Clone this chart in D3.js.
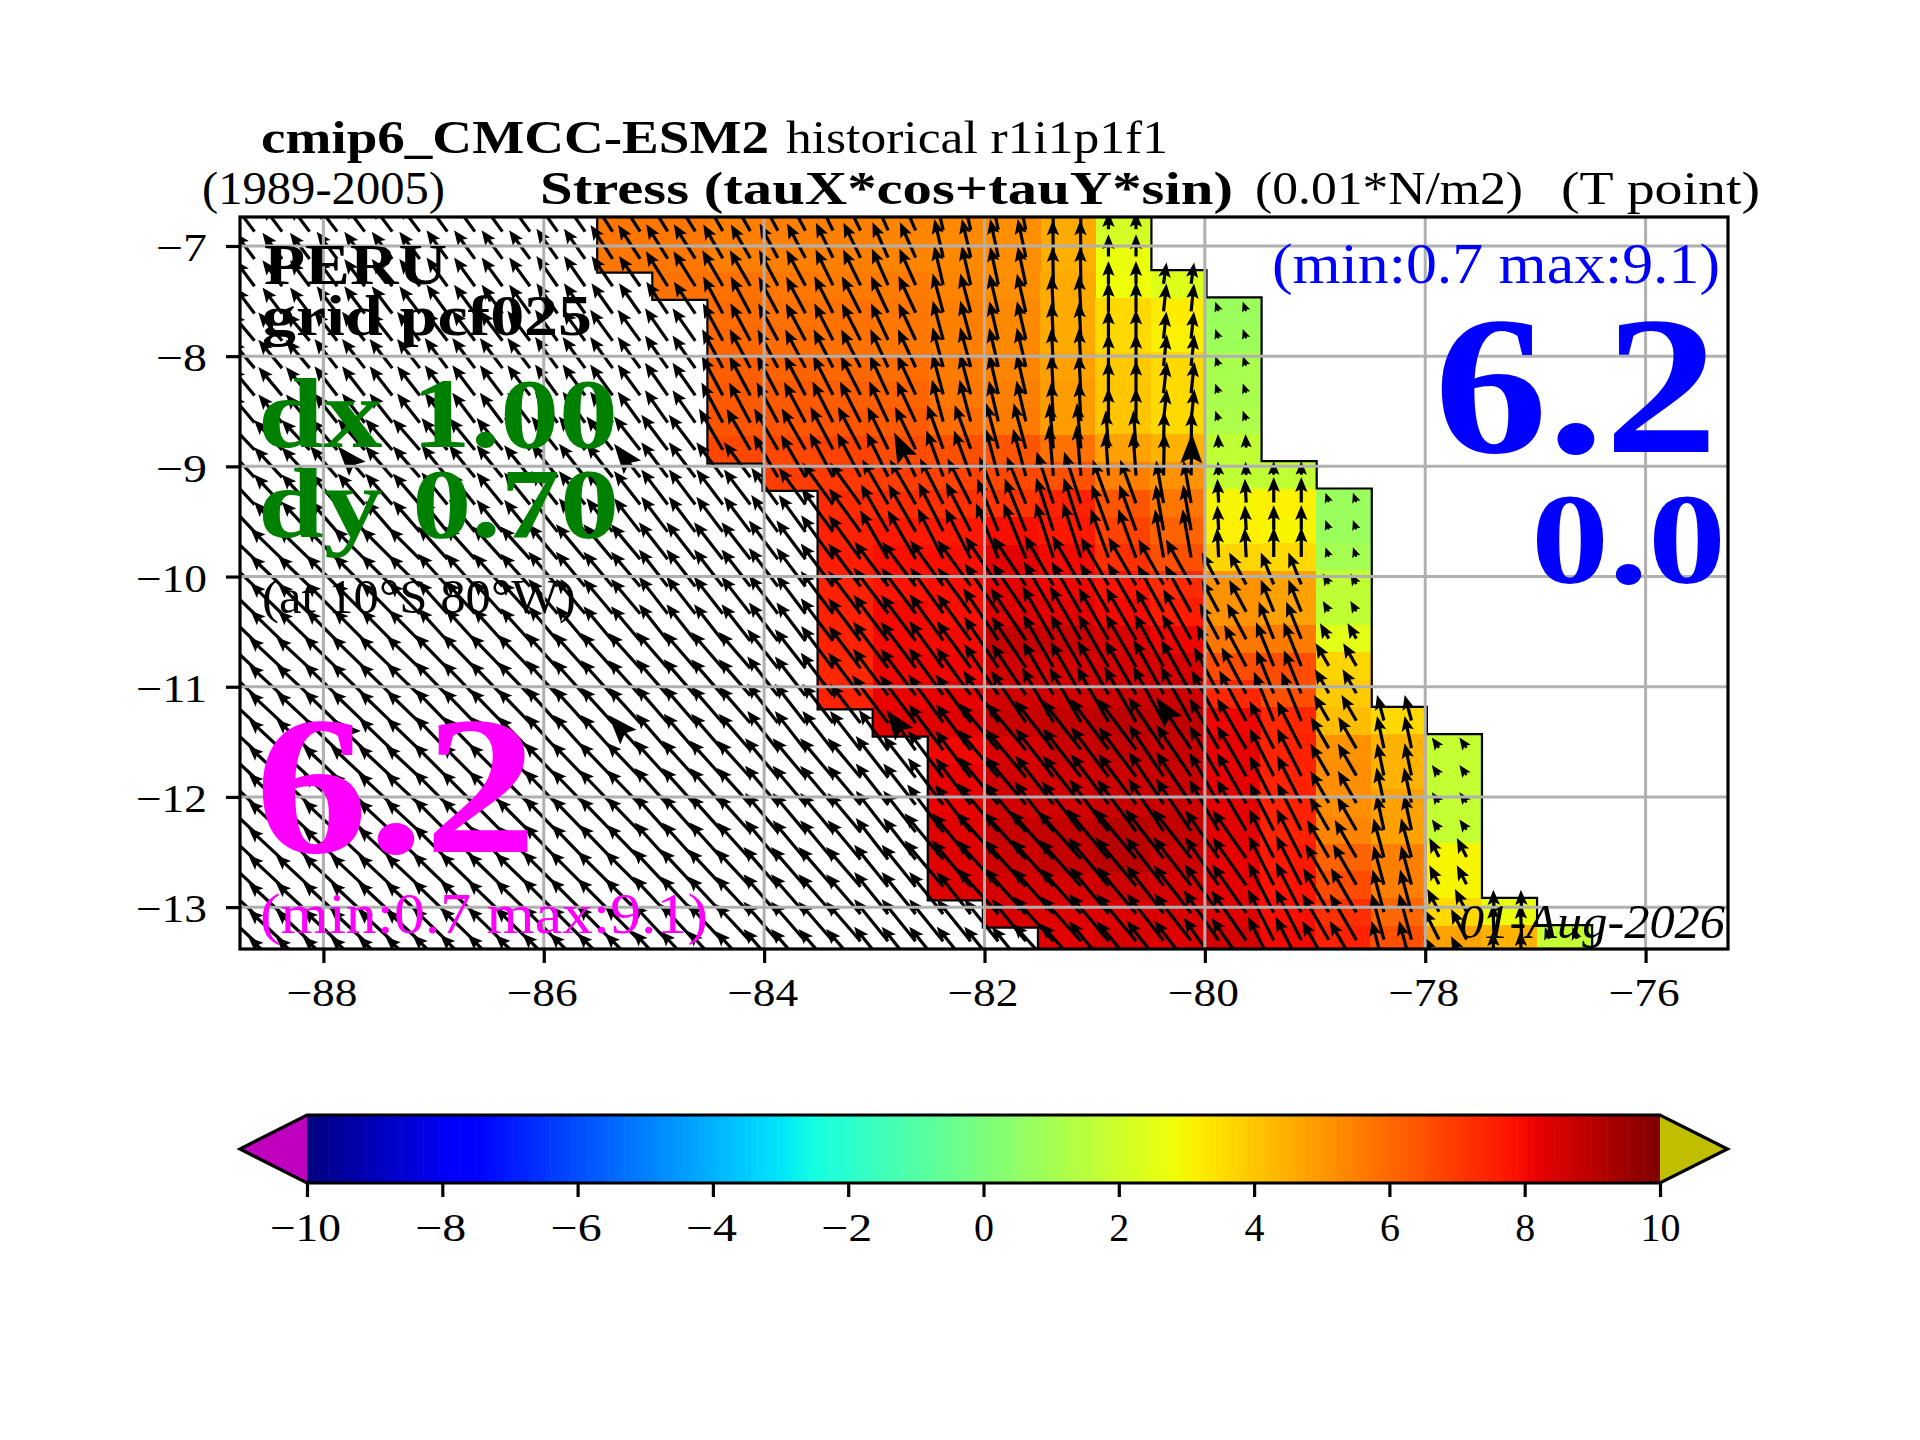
<!DOCTYPE html>
<html>
<head>
<meta charset="utf-8">
<script src="https://cdn.jsdelivr.net/npm/d3@7"></script>
<style>
body { margin: 0; background: #fff; }
text { font-family: "Liberation Serif", serif; }
.axis text { font-size: 40px; font-family: "Liberation Serif", serif; fill: #000; }
.axis line { stroke: #000; stroke-width: 3.2px; }
.axis path { display: none; }
</style>
</head>
<body>
<svg id="chart" width="1920" height="1440"></svg>
<script>
var lonTicks = [-88, -86, -84, -82, -80, -78, -76],
    latTicks = [-7, -8, -9, -10, -11, -12, -13],
    cbarTicks = [-10, -8, -6, -4, -2, 0, 2, 4, 6, 8, 10];

// first half degree column of each row, counted from 85.5W
var bandStart = [0, 0, 1, 2, 2, 2, 2, 2, 2, 3, 4, 4, 4, 4, 4, 4, 4, 4, 5, 6, 6, 6, 6, 6, 6, 7, 8, 8];

// stress along the coast, 10 columns per row from bandStart
var tauValues = [
    [5.7, 5.7, 5.5, 5.5, 5.5, 5.4, 5.3, 5.2, 4.6, 2.1],
    [5.7, 5.7, 5.5, 5.5, 5.5, 5.4, 5.3, 5.2, 4.5, 2.7],
    [5.8, 5.8, 5.7, 5.6, 5.6, 5.4, 5.2, 4.6, 2.8, 2.4],
    [5.9, 5.8, 5.8, 5.7, 5.5, 5.3, 4.6, 3.6, 3.2, 0.75],
    [6.0, 5.9, 5.8, 5.7, 5.5, 5.3, 4.6, 3.6, 3.1, 0.8],
    [6.2, 6.1, 6.0, 5.9, 5.6, 5.4, 4.8, 3.95, 3.6, 1.1],
    [6.3, 6.3, 6.2, 6.1, 5.7, 5.5, 4.9, 4.0, 3.6, 1.1],
    [6.4, 6.4, 6.4, 6.3, 5.9, 5.6, 4.9, 4.0, 3.6, 1.2],
    [6.7, 6.7, 6.8, 6.6, 6.5, 6.4, 5.8, 4.8, 4.4, 1.7],
    [6.9, 7.0, 6.9, 6.8, 6.7, 6.5, 5.5, 5.1, 1.7, 1.7],
    [7.3, 7.3, 7.2, 7.1, 7.5, 6.4, 5.7, 3.0, 3.1, 0.75],
    [7.5, 7.7, 7.7, 7.9, 7.7, 6.8, 6.1, 3.1, 3.0, 0.75],
    [7.6, 7.9, 7.9, 8.3, 8.0, 7.2, 6.5, 3.7, 3.6, 1.0],
    [7.5, 7.8, 7.9, 8.3, 8.1, 7.8, 7.3, 5.1, 4.8, 1.7],
    [7.5, 8.0, 7.9, 8.4, 8.3, 8.0, 7.6, 5.1, 4.8, 1.7],
    [7.5, 8.0, 8.0, 8.85, 8.75, 8.45, 8.1, 5.7, 5.6, 2.5],
    [7.4, 8.1, 8.1, 8.6, 8.55, 8.55, 8.45, 6.6, 6.6, 3.7],
    [7.5, 8.15, 8.2, 8.6, 8.6, 8.7, 8.7, 7.4, 6.5, 3.9],
    [8.35, 8.35, 8.75, 8.85, 8.95, 8.9, 8.1, 7.4, 4.2, 3.6],
    [8.05, 8.47, 8.7, 8.85, 8.8, 8.2, 7.5, 5.1, 4.4, 1.75],
    [8.2, 8.6, 8.6, 8.7, 8.75, 8.2, 7.5, 5.2, 4.4, 1.75],
    [8.2, 8.6, 8.6, 8.75, 8.75, 8.25, 7.5, 5.2, 4.8, 1.75],
    [8.35, 8.8, 8.85, 9.05, 8.85, 8.3, 7.5, 5.4, 4.8, 1.75],
    [8.35, 8.7, 8.85, 9.0, 8.7, 8.2, 7.7, 6.1, 5.5, 3.0],
    [8.35, 8.55, 8.55, 8.7, 8.55, 8.25, 7.8, 6.6, 5.5, 3.0],
    [8.45, 8.35, 8.4, 8.45, 8.35, 7.9, 7.2, 6.0, 3.6, 2.7],
    [8.3, 8.5, 8.35, 8.55, 8.0, 7.5, 6.5, 4.8, 4.4, 1.75],
    [8.3, 8.5, 8.35, 8.55, 8.0, 7.5, 6.5, 4.8, 4.4, 1.75]
];

// arrow direction in degrees west of north: groups of rows by half degree column
var angleRowGroup = [0, 0, 0, 1, 1, 1, 1, 1, 2, 2, 3, 3, 3, 4, 4, 4, 4, 4, 4, 5, 5, 5, 5, 6, 6, 6, 6, 6];
var bandAngle = [
    [33, 32, 30, 28, 26, 24, 13, 12, 1, 0, -8],
    [33, 32, 28, 28, 27, 25, 15, 13, 3, 0, -6, 20],
    [33, 32, 30, 30, 28, 26, 20, 15, 5, 4, -1, 3, 0],
    [33, 32, 30, 30, 36, 30, 27, 22, 18, 20, 10, 3, 0, 20],
    [33, 32, 30, 30, 37, 37, 36, 34, 30, 30, 29, 28, 22, 30, 15],
    [33, 32, 30, 30, 37, 37, 37, 40, 38, 37, 34, 30, 27, 30, 12, 35],
    [33, 32, 30, 30, 37, 37, 40, 42, 42, 40, 38, 35, 27, 30, 15, 27, 2, 20]
];

// offshore arrows, per 1 degree of longitude from 89W and 4 rows of latitude
var offshoreAngle = [
    [37, 37, 36, 35, 34, 34, 34],
    [40, 38, 37, 36, 35, 34, 34],
    [43, 41, 39, 38, 37, 36, 36],
    [46, 45, 42, 40, 38, 37, 35],
    [47, 46, 44, 42, 41, 38, 36],
    [47, 47, 45, 44, 42, 40, 38],
    [47, 47, 46, 45, 43, 41, 39]
];
var offshoreSpeed = [
    [4.6, 4.8, 5.0, 5.2, 5.4, 5.4, 5.4],
    [5.2, 5.2, 5.3, 5.4, 5.6, 5.8, 5.8],
    [5.8, 5.8, 5.8, 6.0, 6.2, 6.4, 6.4],
    [6.2, 6.2, 6.2, 6.4, 6.6, 6.8, 6.8],
    [6.4, 6.5, 6.6, 6.7, 6.8, 7.0, 7.0],
    [6.5, 6.6, 6.7, 6.8, 7.0, 7.2, 7.4],
    [6.5, 6.6, 6.8, 7.0, 7.2, 7.4, 7.6]
];

// the heavier arrows of the coarser field
var boldLon = [-87.625, -85.125, -82.625, -80.125],
    boldRow = [9, 19];

var underColor = "#bf00bf", overColor = "#bfbf00";
var coastAngle = 30, pxPerTau = 7.1;

// jet
var jetR = d3.scaleLinear().domain([0, 0.35, 0.66, 0.89, 1]).range([0, 0, 1, 1, 0.5]),
    jetG = d3.scaleLinear().domain([0, 0.125, 0.375, 0.64, 0.91, 1]).range([0, 0, 1, 1, 0, 0]),
    jetB = d3.scaleLinear().domain([0, 0.11, 0.34, 0.65, 1]).range([0.5, 1, 1, 0, 0]);

function jet(v) {
    var t = (v + 10) / 20;
    return d3.rgb(jetR(t) * 255, jetG(t) * 255, jetB(t) * 255).formatHex();
}

var svg = d3.select("#chart"),
    left = 240, right = 1728, top_ = 217, bottom = 949;

var x = d3.scaleLinear().domain([-88.757, -75.252]).range([left, right]),
    y = d3.scaleLinear().domain([-6.737, -13.38]).range([top_, bottom]);

// the model grid leans a little: rows rise and columns widen toward the coast
var firstRowLat = -6.746, rowLat = 0.2477, colLon = 0.5, firstLon = -85.485, rowTilt = 0.00245, colTilt = 0.003;

function rowY(r, c) { return y(firstRowLat - r * rowLat + c * rowTilt); }
function colX(j, c) { return x(firstLon + j * colLon - (10 - c) * colTilt); }

svg.append("rect").attr("width", 1920).attr("height", 1440).attr("fill", "#fff");

svg.append("clipPath").attr("id", "axes-clip")
    .append("rect")
    .attr("x", left).attr("y", top_)
    .attr("width", right - left).attr("height", bottom - top_);

var plot = svg.append("g").attr("clip-path", "url(#axes-clip)");

// coloured cells
var cells = [];
tauValues.forEach(function(row, r) {
    row.forEach(function(v, c) {
        cells.push({r: r, c: c, j: bandStart[r] + c, v: v});
    });
});

plot.append("g").selectAll("rect")
    .data(cells)
    .enter().append("rect")
    .attr("x", function(d) { return colX(d.j, d.c); })
    .attr("y", function(d) { return rowY(d.r, d.c); })
    .attr("width", function(d) { return colX(d.j + 1, d.c + 1) - colX(d.j, d.c) + 0.5; })
    .attr("height", function(d) { return rowY(d.r + 1, d.c) - rowY(d.r, d.c) + 0.5; })
    .attr("fill", function(d) { return jet(d.v); })
    .attr("shape-rendering", "crispEdges");

// mask contour on both sides of the band
var contourLine = d3.line();
[0, 10].forEach(function(side) {
    var pts = [];
    bandStart.forEach(function(s, r) {
        var c = side === 0 ? 0 : 9;
        pts.push([colX(s + side, side), rowY(r, c)]);
        pts.push([colX(s + side, side), rowY(r + 1, c)]);
    });
    plot.append("path")
        .attr("d", contourLine(pts))
        .attr("fill", "none")
        .attr("stroke", "#000")
        .attr("stroke-width", 2.2);
});

// quiver
function arrowPath(len, bold) {
    var w = 1.6, hl = bold ? 30 : 15, hw = bold ? 11 : 6.2;
    if (len < hl) {
        var s = len / hl;
        hl = len;
        hw = hw * Math.max(s, 0.7);
        w = Math.max(w * s, 0.6);
    }
    var notch = hl * 0.85;
    return "M0," + (-len) +
        "L" + hw + "," + (hl - len) +
        "L" + w + "," + (notch - len) +
        "L" + w + ",0L" + (-w) + ",0" +
        "L" + (-w) + "," + (notch - len) +
        "L" + (-hw) + "," + (hl - len) + "Z";
}

var arrows = [];
d3.range(0, tauValues.length).forEach(function(r) {
    d3.range(0, 56).forEach(function(k) {
        var lon = -88.625 + k * 0.25,
            j = Math.floor((lon + 85.5) / colLon),
            c = j - bandStart[r],
            angle, speed;
        if (c >= 10) return;
        if (c >= 0) {
            angle = bandAngle[angleRowGroup[r]][j];
            if (angle === undefined) angle = coastAngle;
            speed = tauValues[r][c] / Math.max(Math.cos((angle - coastAngle) * Math.PI / 180), 0.5);
        } else {
            var a = Math.min(Math.floor(r / 4), 6),
                b = Math.min(Math.floor(lon + 89), 6);
            angle = offshoreAngle[a][b];
            speed = offshoreSpeed[a][b];
        }
        arrows.push({
            lon: lon,
            r: r,
            c: Math.max(c, 0),
            angle: angle,
            len: Math.max(speed * pxPerTau, 10),
            bold: boldRow.indexOf(r) >= 0 && boldLon.indexOf(lon) >= 0
        });
    });
});

plot.append("g").selectAll("path")
    .data(arrows)
    .enter().append("path")
    .attr("d", function(d) { return arrowPath(d.len, d.bold); })
    .attr("transform", function(d) {
        return "translate(" + x(d.lon) + "," + (rowY(d.r, d.c) + rowY(d.r + 1, d.c)) / 2 + ") rotate(" + (-d.angle) + ")";
    })
    .attr("fill", "#000");

// grid
plot.append("g").selectAll("line")
    .data(lonTicks)
    .enter().append("line")
    .attr("x1", function(d) { return x(d); }).attr("x2", function(d) { return x(d); })
    .attr("y1", top_).attr("y2", bottom)
    .attr("stroke", "#b0b0b0").attr("stroke-width", 3);

plot.append("g").selectAll("line")
    .data(latTicks)
    .enter().append("line")
    .attr("y1", function(d) { return y(d); }).attr("y2", function(d) { return y(d); })
    .attr("x1", left).attr("x2", right)
    .attr("stroke", "#b0b0b0").attr("stroke-width", 3);

svg.append("rect")
    .attr("x", left).attr("y", top_)
    .attr("width", right - left).attr("height", bottom - top_)
    .attr("fill", "none").attr("stroke", "#000").attr("stroke-width", 3.2);

// computer modern digits run wider than the installed serif
function stretchTicks(g) {
    g.selectAll("text")
        .attr("lengthAdjust", "spacingAndGlyphs")
        .attr("textLength", function(d) { return (d < 0 ? 31 : 0) + 20 * String(Math.abs(d)).length; });
}

function shiftNegative(g) {
    g.selectAll("text")
        .attr("dx", function(d) { return d < 0 ? -2 : 0; });
}

svg.append("g")
    .attr("class", "axis")
    .attr("transform", "translate(0," + bottom + ")")
    .call(d3.axisBottom(x).tickValues(lonTicks).tickFormat(d3.format("d")).tickSize(14).tickPadding(15))
    .call(stretchTicks)
    .call(shiftNegative);

svg.append("g")
    .attr("class", "axis")
    .attr("transform", "translate(" + left + ",0)")
    .call(d3.axisLeft(y).tickValues(latTicks).tickFormat(d3.format("d")).tickSize(14).tickPadding(19))
    .call(stretchTicks)
    .selectAll("text").attr("dy", "0.37em");

// colorbar
var cbarLeft = 307, cbarRight = 1660, cbarTop = 1115, cbarBottom = 1183, cbarMid = 1149;
var cbarX = d3.scaleLinear().domain([-10, 10]).range([cbarLeft, cbarRight]);

var cbar = svg.append("g");

cbar.selectAll("rect")
    .data(d3.range(0, 256))
    .enter().append("rect")
    .attr("x", function(d) { return cbarX(-10 + d * 20 / 256); })
    .attr("y", cbarTop)
    .attr("width", (cbarRight - cbarLeft) / 256 + 0.6)
    .attr("height", cbarBottom - cbarTop)
    .attr("fill", function(d) { return jet(-10 + (d + 0.5) * 20 / 256); });

var cbarLine = d3.line();

cbar.append("path")
    .attr("d", cbarLine([[cbarLeft, cbarTop], [240, cbarMid], [cbarLeft, cbarBottom]]) + "Z")
    .attr("fill", underColor);

cbar.append("path")
    .attr("d", cbarLine([[cbarRight, cbarTop], [1727.5, cbarMid], [cbarRight, cbarBottom]]) + "Z")
    .attr("fill", overColor);

cbar.append("path")
    .attr("d", cbarLine([[cbarLeft, cbarTop], [cbarRight, cbarTop], [1727.5, cbarMid], [cbarRight, cbarBottom],
        [cbarLeft, cbarBottom], [240, cbarMid]]) + "Z")
    .attr("fill", "none").attr("stroke", "#000").attr("stroke-width", 3.2);

svg.append("g")
    .attr("class", "axis")
    .attr("transform", "translate(0," + cbarBottom + ")")
    .call(d3.axisBottom(cbarX).tickValues(cbarTicks).tickFormat(d3.format("d")).tickSize(14).tickPadding(15.3))
    .call(stretchTicks)
    .call(shiftNegative);

// text
function label(str, x0, x1, base, size, color, weight, style) {
    svg.append("text")
        .attr("x", x0)
        .attr("y", base)
        .attr("textLength", x1 - x0)
        .attr("lengthAdjust", "spacingAndGlyphs")
        .attr("font-size", size)
        .attr("font-weight", weight || "normal")
        .attr("font-style", style || "normal")
        .attr("fill", color || "#000")
        .text(str);
}

label("cmip6_CMCC-ESM2", 261, 769, 152.7, 47, "#000", "bold");
label("historical r1i1p1f1", 786, 1168, 152.7, 47);
label("(1989-2005)", 202, 445, 204, 47);
label("Stress (tauX*cos+tauY*sin)", 540, 1233, 204, 47, "#000", "bold");
label("(0.01*N/m2)", 1255, 1523, 204, 47);
label("(T point)", 1561, 1760, 204, 47);

label("PERU", 264, 447, 284, 58, "#000", "bold");
label("grid pcf025", 262, 592, 335, 58, "#000", "bold");
label("dx 1.00", 258, 618, 447, 100, "green", "bold");
label("dy 0.70", 258, 619, 537, 100, "green", "bold");
label("(at 10\u00b0S 80\u00b0W)", 262, 576, 613, 48);

label("6.2", 255, 537, 852, 197, "#ff00ff", "bold");
label("(min:0.7 max:9.1)", 260, 708, 933, 58, "#ff00ff");

label("(min:0.7 max:9.1)", 1272, 1720, 283, 58, "#0000ff");
label("6.2", 1434, 1718, 452, 197, "#0000ff", "bold");
label("0.0", 1531, 1726, 583, 130, "#0000ff", "bold");

label("01-Aug-2026", 1459, 1725, 938, 48, "#000", "normal", "italic");
</script>
</body>
</html>
